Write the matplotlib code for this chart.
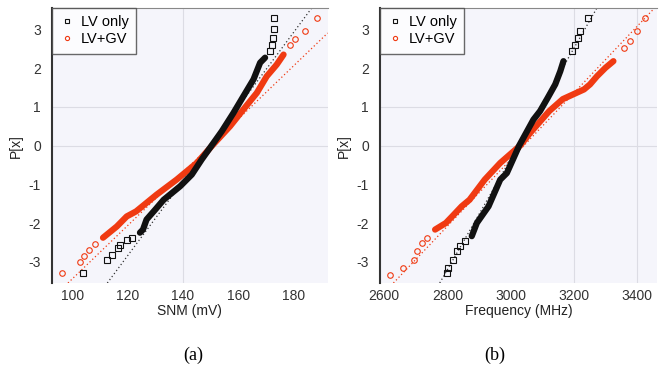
import matplotlib
matplotlib.use("Agg")
from matplotlib import pyplot as plt

plt.rcParams['font.family'] = ['Liberation Sans', 'DejaVu Sans']
plt.rcParams['axes.unicode_minus'] = False

# ---- panel (a): SNM (mV) vs normal quantile ----
# dense body of the LV only samples (z, SNM)
a_lv_z = [-2.25, -2.17, -1.91, -1.65, -1.40, -1.05, -0.75, -0.36, 0.0, 0.37, 0.84, 1.27, 1.71, 2.14, 2.27]
a_lv_x = [124.4, 125.5, 126.8, 130.0, 133.0, 139.0, 143.2, 146.8, 150.4, 154.1, 158.3, 161.9, 165.6, 168.0, 169.8]
# sparse tails of LV only
a_lv_tail_z = [-3.28, -2.95, -2.82, -2.64, -2.56, -2.43, -2.38, 2.44, 2.61, 2.78, 3.00, 3.30]
a_lv_tail_x = [103.9, 112.4, 114.2, 116.6, 117.2, 119.6, 121.5, 171.6, 172.2, 172.8, 173.2, 173.2]

a_gv_z = [-2.38, -2.09, -1.83, -1.70, -1.27, -0.88, -0.45, 0.03, 0.50, 0.93, 1.36, 1.79, 2.09, 2.35]
a_gv_x = [111.0, 116.0, 119.6, 123.0, 130.4, 137.7, 145.0, 151.0, 157.1, 161.9, 166.8, 170.4, 174.0, 176.5]
a_gv_tail_z = [-3.28, -3.00, -2.85, -2.69, -2.55, 2.61, 2.74, 2.95, 3.30]
a_gv_tail_x = [96.0, 102.5, 104.0, 106.0, 108.0, 178.9, 180.7, 184.4, 188.6]

# reference lines, two points read from each
a_lv_ref = ([113.5, 186.9], [-3.46, 3.57])
a_gv_ref = ([99.6, 192.7], [-3.46, 2.92])

# ---- panel (b): Frequency (MHz) ----
b_lv_z = [-2.34, -2.00, -1.57, -0.88, -0.71, 0.0, 0.67, 0.89, 1.23, 1.58, 1.92, 2.18]
b_lv_x = [2877, 2893, 2930, 2967, 2988, 3027, 3072, 3093, 3117, 3141, 3157, 3167]
b_lv_tail_z = [-3.28, -3.16, -2.95, -2.73, -2.60, -2.47, 2.44, 2.61, 2.78, 2.95, 3.30]
b_lv_tail_x = [2799, 2803, 2819, 2830, 2840, 2856, 3194, 3204, 3214, 3220, 3246]

b_gv_z = [-2.17, -2.00, -1.83, -1.57, -1.40, -0.88, -0.45, 0.0, 0.33, 0.89, 1.20, 1.45, 1.58, 1.79, 2.01, 2.18]
b_gv_x = [2761, 2795, 2815, 2845, 2870, 2918, 2967, 3030, 3062, 3122, 3165, 3232, 3251, 3273, 3300, 3325]
b_gv_tail_z = [-3.33, -3.16, -2.95, -2.73, -2.51, -2.38, 2.52, 2.70, 2.95, 3.30]
b_gv_tail_x = [2619, 2661, 2693, 2703, 2719, 2735, 3357, 3378, 3399, 3425]

b_lv_ref = ([2782, 3267], [-3.46, 3.47])
b_gv_ref = ([2635, 3435], [-3.50, 3.38])

a_xticks = [100, 120, 140, 160, 180]
b_xticks = [2600, 2800, 3000, 3200, 3400]
yticks = [-3, -2, -1, 0, 1, 2, 3]
a_grid_x = [140]
b_grid_x = [3200, 3400]
grid_y = [0, 1]

black = "#111111"
red = "#f03a12"
bg = "#f5f5fb"

fig = plt.figure(figsize=(6.61, 3.69), dpi=100)
ax_a = fig.add_axes([0.0787, 0.233, 0.417, 0.745])
ax_b = fig.add_axes([0.575, 0.233, 0.419, 0.745])

panels = [
    (ax_a, a_lv_z, a_lv_x, a_lv_tail_z, a_lv_tail_x, a_gv_z, a_gv_x, a_gv_tail_z, a_gv_tail_x,
     a_lv_ref, a_gv_ref, a_xticks, (92.5, 192.5), a_grid_x, "SNM (mV)"),
    (ax_b, b_lv_z, b_lv_x, b_lv_tail_z, b_lv_tail_x, b_gv_z, b_gv_x, b_gv_tail_z, b_gv_tail_x,
     b_lv_ref, b_gv_ref, b_xticks, (2587, 3463), b_grid_x, "Frequency (MHz)"),
]

for (ax, lz, lx, ltz, ltx, gz, gx, gtz, gtx, lref, gref, xt, xlim, gridx, xlabel) in panels:
    ax.set_facecolor(bg)
    for gxv in gridx:
        ax.axvline(gxv, color="#dcdce4", lw=0.8, zorder=0)
    for gyv in grid_y:
        ax.axhline(gyv, color="#dcdce4", lw=0.8, zorder=0)

    ax.axline((lref[0][0], lref[1][0]), (lref[0][1], lref[1][1]), color="#333333", ls=(0, (1, 2)), lw=0.9, zorder=1)
    ax.axline((gref[0][0], gref[1][0]), (gref[0][1], gref[1][1]), color=red, ls=(0, (1, 2)), lw=0.9, zorder=1)

    # LV+GV first (drawn under), then LV only
    ax.plot(gx, gz, color=red, lw=4.5, solid_capstyle="round", zorder=2)
    ax.plot(gtx, gtz, ls="none", marker="o", ms=4, mfc="none", mec=red, mew=0.8, zorder=2)
    ax.plot(lx, lz, color=black, lw=4.5, solid_capstyle="round", zorder=3)
    ax.plot(ltx, ltz, ls="none", marker="s", ms=4, mfc="none", mec=black, mew=0.8, zorder=3)

    ax.set_xlim(*xlim)
    ax.set_ylim(-3.55, 3.55)
    ax.set_xticks(xt)
    ax.set_yticks(yticks)
    ax.tick_params(length=0, labelsize=10, labelcolor="#333333", pad=4)
    ax.tick_params(axis="y", pad=8)
    ax.set_xlabel(xlabel, fontsize=10, color="#222222", labelpad=1)
    ax.set_ylabel("P[x]", fontsize=10, color="#222222", labelpad=4)

    ax.spines["left"].set_color("#333333")
    ax.spines["left"].set_linewidth(1.5)
    ax.spines["top"].set_color("#888888")
    ax.spines["top"].set_linewidth(0.8)
    ax.spines["right"].set_visible(False)
    ax.spines["bottom"].set_visible(False)

    h1, = ax.plot([], [], ls="none", marker="s", ms=3, mfc="none", mec=black, mew=0.8)
    h2, = ax.plot([], [], ls="none", marker="o", ms=3, mfc="none", mec=red, mew=0.8)
    leg = ax.legend([h1, h2], ["LV only", "LV+GV"], loc="upper left", fontsize=10.5,
                    frameon=True, fancybox=False, borderaxespad=0, handlelength=1.0,
                    handletextpad=0.5, borderpad=0.5, labelspacing=0.2)
    leg.get_frame().set_edgecolor("#444444")
    leg.get_frame().set_linewidth(1.0)
    leg.get_frame().set_facecolor("white")

fig.text(0.292, 0.038, "(a)", fontsize=13, family="Liberation Serif", ha="center", va="center")
fig.text(0.749, 0.038, "(b)", fontsize=13, family="Liberation Serif", ha="center", va="center")

fig.savefig("out.png", dpi=100)
